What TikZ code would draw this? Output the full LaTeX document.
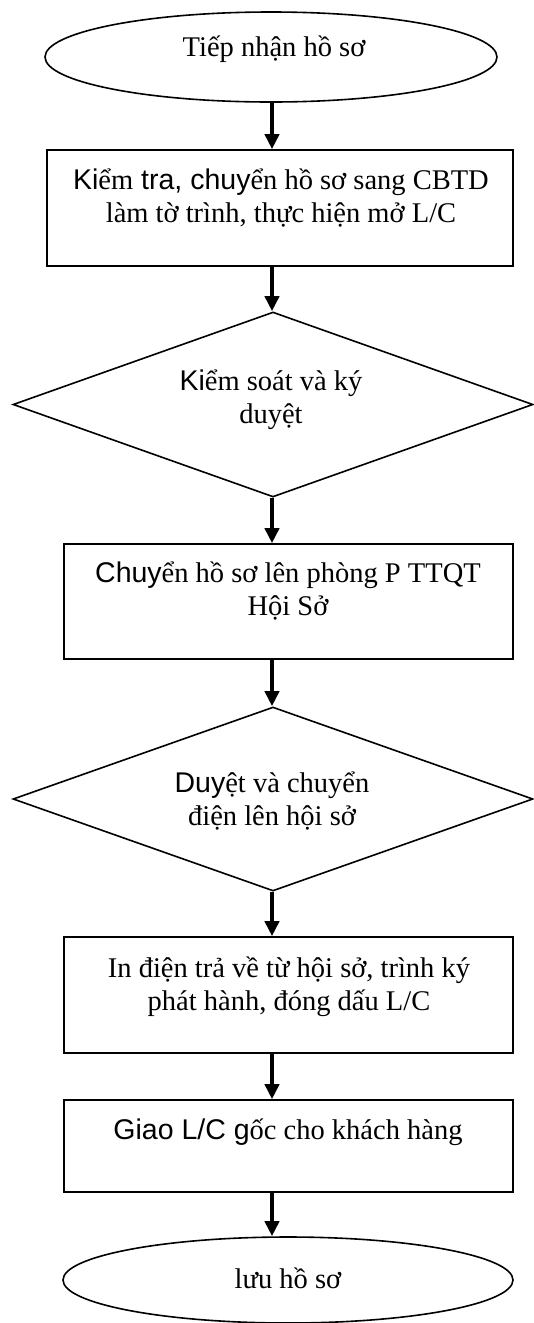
\documentclass[tikz,border=0pt]{standalone}
\usepackage{fontspec}
\setmainfont{Liberation Serif}
\setsansfont{Liberation Sans}
\usetikzlibrary{shapes.geometric,arrows.meta}
\begin{document}
\begin{tikzpicture}[x=1pt,y=-1pt,
  shapeline/.style={draw=black,line width=1.6pt,inner sep=0pt},
  boxnode/.style={shapeline,rectangle},
  ovalnode/.style={shapeline,ellipse},
  decnode/.style={shapeline,diamond},
  lbl/.style={inner sep=0pt,align=center,font=\fontsize{28.5}{33}\selectfont},
  flow/.style={line width=4pt,-{Triangle[length=15pt,width=14pt]}}]
\useasboundingbox[fill=white] (0,0) rectangle (533,1323);

% shapes
\node[ovalnode,minimum width=452pt,minimum height=90pt] (e1) at (271,57) {};
\node[boxnode,minimum width=466pt,minimum height=116pt] (b1) at (280,208) {};
\node[decnode,minimum width=520pt,minimum height=185pt] (d1) at (273,404.5) {};
\node[boxnode,minimum width=449pt,minimum height=115pt] (b2) at (288.5,601.5) {};
\node[decnode,minimum width=520pt,minimum height=184pt] (d2) at (273,799) {};
\node[boxnode,minimum width=449pt,minimum height=116pt] (b3) at (288.5,995) {};
\node[boxnode,minimum width=449pt,minimum height=92pt] (b4) at (288.5,1146) {};
\node[ovalnode,minimum width=450pt,minimum height=86pt] (e2) at (288,1280) {};

% labels
\node[lbl] (t1) at (274,49.4) {\strut Tiếp nhận hồ sơ};
\node[lbl] (t2) at (281,199.4) {\strut\textsf{Ki}ểm\textsf{ tra, chuy}ển hồ sơ sang CBTD\\\strut làm tờ trình, thực hiện mở L/C};
\node[lbl] (t3) at (271,399.9) {\strut\textsf{Ki}ểm soát và ký\\\strut duyệt};
\node[lbl] (t4) at (288,592.5) {\strut\textsf{Chuy}ển hồ sơ lên phòng P TTQT\\\strut Hội Sở};
\node[lbl] (t5) at (272,802) {\strut\textsf{Duy}ệt và chuyển\\\strut điện lên hội sở};
\node[lbl] (t6) at (289,987) {\strut In điện trả về từ hội sở, trình ký\\\strut phát hành, đóng dấu L/C};
\node[lbl] (t7) at (288,1132.4) {\strut\textsf{Giao L/C g}ốc cho khách hàng};
\node[lbl] (t8) at (288,1281.4) {\strut lưu hồ sơ};

% connectors
\coordinate (ax) at (272,0);
\draw[flow] (ax |- e1.south) -- (ax |- b1.north);
\draw[flow] (ax |- b1.south) -- (ax |- d1.north);
\draw[flow] (ax |- d1.south) -- (ax |- b2.north);
\draw[flow] (ax |- b2.south) -- (ax |- d2.north);
\draw[flow] (ax |- d2.south) -- (ax |- b3.north);
\draw[flow] (ax |- b3.south) -- (ax |- b4.north);
\draw[flow] (ax |- b4.south) -- (ax |- e2.north);
\end{tikzpicture}
\end{document}
